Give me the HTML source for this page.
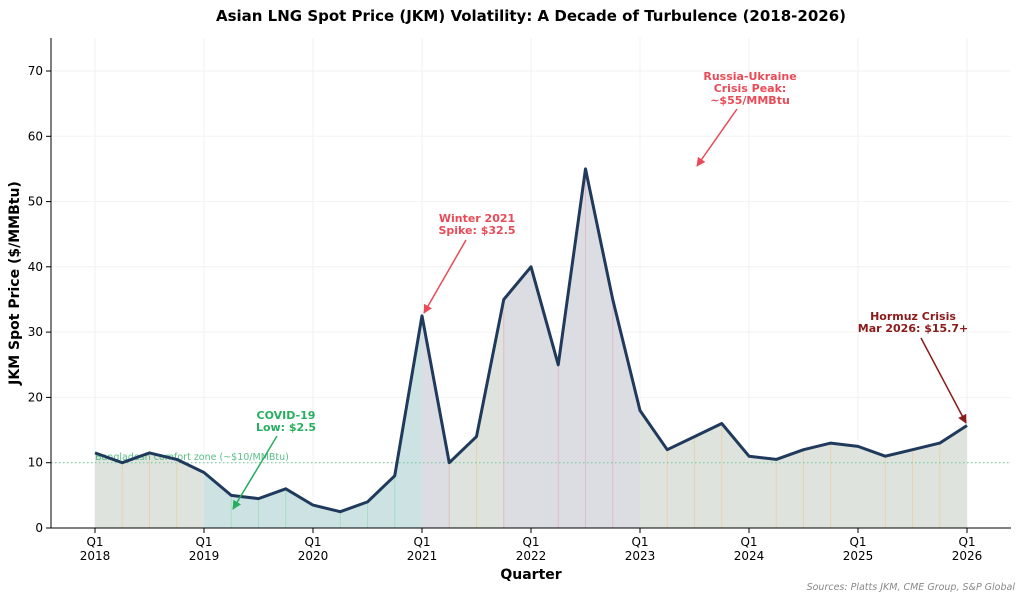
<!DOCTYPE html><html><head><meta charset="utf-8"><style>body{margin:0;background:#fff}svg{display:block;font-family:"DejaVu Sans","Liberation Sans",sans-serif}</style></head><body>
<svg width="1024" height="600" viewBox="0 0 1024 600" xmlns="http://www.w3.org/2000/svg">
<defs>
<marker id="ag" viewBox="0 0 10 10" refX="9" refY="5" markerWidth="6" markerHeight="6" orient="auto"><path d="M0,0 L10,5 L0,10 z" fill="#27ae60"/></marker>
<marker id="ar" viewBox="0 0 10 10" refX="9" refY="5" markerWidth="6" markerHeight="6" orient="auto"><path d="M0,0 L10,5 L0,10 z" fill="#e84b57"/></marker>
<marker id="ad" viewBox="0 0 10 10" refX="9" refY="5" markerWidth="6" markerHeight="6" orient="auto"><path d="M0,0 L10,5 L0,10 z" fill="#8b1a1a"/></marker>
</defs>
<text x="531" y="21" text-anchor="middle" font-size="15" font-weight="bold">Asian LNG Spot Price (JKM) Volatility: A Decade of Turbulence (2018-2026)</text>
<g stroke="#f2f2f2">
<line x1="51" x2="1011" y1="462.7" y2="462.7"/><line x1="51" x2="1011" y1="397.4" y2="397.4"/><line x1="51" x2="1011" y1="332.1" y2="332.1"/><line x1="51" x2="1011" y1="266.8" y2="266.8"/><line x1="51" x2="1011" y1="201.6" y2="201.6"/><line x1="51" x2="1011" y1="136.3" y2="136.3"/><line x1="51" x2="1011" y1="71" y2="71"/>
<line x1="95" x2="95" y1="38" y2="528"/><line x1="204" x2="204" y1="38" y2="528"/><line x1="313" x2="313" y1="38" y2="528"/><line x1="422" x2="422" y1="38" y2="528"/><line x1="531" x2="531" y1="38" y2="528"/><line x1="640" x2="640" y1="38" y2="528"/><line x1="749" x2="749" y1="38" y2="528"/><line x1="858" x2="858" y1="38" y2="528"/><line x1="967" x2="967" y1="38" y2="528"/>
</g>
<polygon fill="#dee4dd" points="95,528 95,452.9 122.25,462.7 149.5,452.9 176.75,459.4 204,472.5 204,528"/>
<polygon fill="#cde3e3" points="204,528 204,472.5 231.25,495.4 258.5,498.6 285.75,488.8 313,505.1 340.25,511.7 367.5,501.9 394.75,475.8 422,315.8 422,528"/>
<polygon fill="#dcdde3" points="422,528 422,315.8 449.25,462.7 449.25,528"/>
<polygon fill="#dee4dd" points="449.25,528 449.25,462.7 476.5,436.6 503.75,299.5 503.75,528"/>
<polygon fill="#dcdde3" points="503.75,528 503.75,299.5 531,266.8 558.25,364.8 585.5,168.9 612.75,299.5 640,410.5 640,528"/>
<polygon fill="#dee4dd" points="640,528 640,410.5 667.25,449.7 694.5,436.6 721.75,423.5 749,456.2 776.25,459.4 803.5,449.7 830.75,443.1 858,446.4 885.25,456.2 912.5,449.7 939.75,443.1 967,425.5 967,528"/>
<g stroke="#e8d2b0">
<line x1="122.25" x2="122.25" y1="528" y2="462.7"/><line x1="149.5" x2="149.5" y1="528" y2="452.9"/><line x1="176.75" x2="176.75" y1="528" y2="459.4"/>
<line x1="476.5" x2="476.5" y1="528" y2="436.6"/>
<line x1="667.25" x2="667.25" y1="528" y2="449.7"/><line x1="694.5" x2="694.5" y1="528" y2="436.6"/><line x1="721.75" x2="721.75" y1="528" y2="423.5"/><line x1="776.25" x2="776.25" y1="528" y2="459.4"/><line x1="803.5" x2="803.5" y1="528" y2="449.7"/><line x1="830.75" x2="830.75" y1="528" y2="443.1"/><line x1="885.25" x2="885.25" y1="528" y2="456.2"/><line x1="912.5" x2="912.5" y1="528" y2="449.7"/><line x1="939.75" x2="939.75" y1="528" y2="443.1"/>
</g>
<g stroke="#a8dcc4">
<line x1="231.25" x2="231.25" y1="528" y2="495.4"/><line x1="258.5" x2="258.5" y1="528" y2="498.6"/><line x1="285.75" x2="285.75" y1="528" y2="488.8"/><line x1="340.25" x2="340.25" y1="528" y2="511.7"/><line x1="367.5" x2="367.5" y1="528" y2="501.9"/><line x1="394.75" x2="394.75" y1="528" y2="475.8"/>
</g>
<g stroke="#e0bcc6">
<line x1="449.25" x2="449.25" y1="528" y2="462.7"/><line x1="503.75" x2="503.75" y1="528" y2="299.5"/><line x1="558.25" x2="558.25" y1="528" y2="364.8"/><line x1="585.5" x2="585.5" y1="528" y2="168.9"/><line x1="612.75" x2="612.75" y1="528" y2="299.5"/>
</g>
<line x1="51" x2="1011" y1="462.7" y2="462.7" stroke="#6cc79a" stroke-dasharray="1.5,2.5"/>
<text x="95" y="460" font-size="9.5" fill="#3cb371" opacity="0.85">Bangladesh comfort zone (~$10/MMBtu)</text>
<polyline fill="none" stroke="#1f3a5c" stroke-width="3" stroke-linejoin="round" points="95,452.9 122.25,462.7 149.5,452.9 176.75,459.4 204,472.5 231.25,495.4 258.5,498.6 285.75,488.8 313,505.1 340.25,511.7 367.5,501.9 394.75,475.8 422,315.8 449.25,462.7 476.5,436.6 503.75,299.5 531,266.8 558.25,364.8 585.5,168.9 612.75,299.5 640,410.5 667.25,449.7 694.5,436.6 721.75,423.5 749,456.2 776.25,459.4 803.5,449.7 830.75,443.1 858,446.4 885.25,456.2 912.5,449.7 939.75,443.1 967,425.5"/>
<line x1="51" y1="38" x2="51" y2="528" stroke="#000"/><line x1="51" y1="528" x2="1011" y2="528" stroke="#000"/>
<g stroke="#000">
<line x1="46" x2="51" y1="528" y2="528"/><line x1="46" x2="51" y1="462.7" y2="462.7"/><line x1="46" x2="51" y1="397.4" y2="397.4"/><line x1="46" x2="51" y1="332.1" y2="332.1"/><line x1="46" x2="51" y1="266.8" y2="266.8"/><line x1="46" x2="51" y1="201.6" y2="201.6"/><line x1="46" x2="51" y1="136.3" y2="136.3"/><line x1="46" x2="51" y1="71" y2="71"/>
<line x1="95" x2="95" y1="528" y2="533"/><line x1="204" x2="204" y1="528" y2="533"/><line x1="313" x2="313" y1="528" y2="533"/><line x1="422" x2="422" y1="528" y2="533"/><line x1="531" x2="531" y1="528" y2="533"/><line x1="640" x2="640" y1="528" y2="533"/><line x1="749" x2="749" y1="528" y2="533"/><line x1="858" x2="858" y1="528" y2="533"/><line x1="967" x2="967" y1="528" y2="533"/>
</g>
<g font-size="12" text-anchor="end">
<text x="43" y="532">0</text><text x="43" y="466.7">10</text><text x="43" y="401.4">20</text><text x="43" y="336.1">30</text><text x="43" y="270.8">40</text><text x="43" y="205.6">50</text><text x="43" y="140.3">60</text><text x="43" y="75">70</text>
</g>
<g font-size="12" text-anchor="middle">
<text x="95" y="546">Q1</text><text x="95" y="560">2018</text>
<text x="204" y="546">Q1</text><text x="204" y="560">2019</text>
<text x="313" y="546">Q1</text><text x="313" y="560">2020</text>
<text x="422" y="546">Q1</text><text x="422" y="560">2021</text>
<text x="531" y="546">Q1</text><text x="531" y="560">2022</text>
<text x="640" y="546">Q1</text><text x="640" y="560">2023</text>
<text x="749" y="546">Q1</text><text x="749" y="560">2024</text>
<text x="858" y="546">Q1</text><text x="858" y="560">2025</text>
<text x="967" y="546">Q1</text><text x="967" y="560">2026</text>
</g>
<g font-size="11" font-weight="bold" text-anchor="middle">
<text x="286" y="419" fill="#27ae60">COVID-19</text><text x="286" y="431" fill="#27ae60">Low: $2.5</text>
<text x="477" y="222" fill="#e84b57">Winter 2021</text><text x="477" y="234" fill="#e84b57">Spike: $32.5</text>
<text x="750" y="80" fill="#e84b57">Russia-Ukraine</text><text x="750" y="92" fill="#e84b57">Crisis Peak:</text><text x="750" y="104" fill="#e84b57">~$55/MMBtu</text>
<text x="913" y="320" fill="#8b1a1a">Hormuz Crisis</text><text x="913" y="332" fill="#8b1a1a">Mar 2026: $15.7+</text>
</g>
<line x1="277" y1="436" x2="233" y2="509" stroke="#27ae60" stroke-width="1.5" marker-end="url(#ag)"/>
<line x1="466" y1="240" x2="424" y2="313" stroke="#e84b57" stroke-width="1.5" marker-end="url(#ar)"/>
<line x1="737" y1="109" x2="697" y2="166" stroke="#e84b57" stroke-width="1.5" marker-end="url(#ar)"/>
<line x1="921" y1="338" x2="966" y2="423" stroke="#8b1a1a" stroke-width="1.5" marker-end="url(#ad)"/>
<text x="531" y="579" text-anchor="middle" font-size="14" font-weight="bold">Quarter</text>
<text transform="translate(19,283) rotate(-90)" text-anchor="middle" font-size="14" font-weight="bold">JKM Spot Price ($/MMBtu)</text>
<text x="1015" y="590" text-anchor="end" font-size="9.5" font-style="italic" fill="#888">Sources: Platts JKM, CME Group, S&amp;P Global</text>
</svg></body></html>
